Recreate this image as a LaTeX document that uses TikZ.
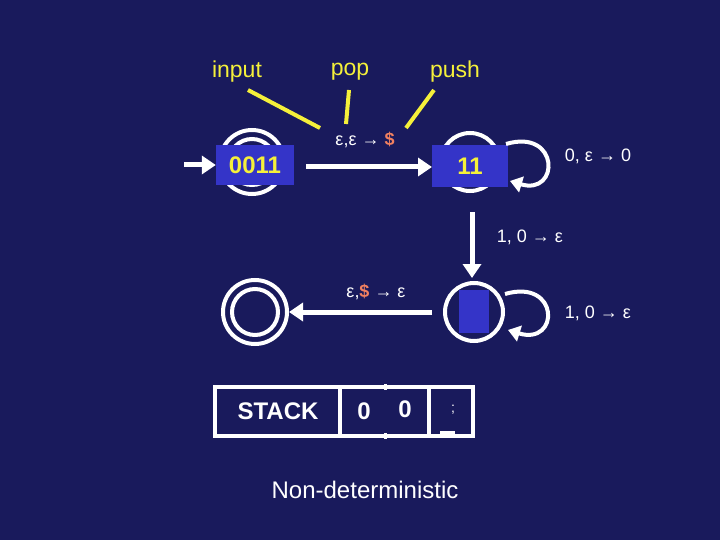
\documentclass[tikz,border=0pt]{standalone}
\usepackage{fontspec}
\setmainfont{Liberation Sans}
\usetikzlibrary{arrows.meta}
\definecolor{bg}{HTML}{191A5C}
\definecolor{boxb}{HTML}{3434C8}
\definecolor{yel}{HTML}{F5F03A}
\definecolor{dol}{HTML}{F08060}
\begin{document}
\begin{tikzpicture}[x=1pt,y=-1pt,
  st/.style={circle,draw=white,line width=4pt,minimum size=58pt,inner sep=0},
  lab/.style={text=white,font=\fontsize{18}{22}\selectfont},
  ylab/.style={text=yel,font=\fontsize{23}{28}\selectfont},
  arr/.style={draw=white,line width=5pt,-{Triangle[length=14pt,width=18pt]}},
  yl/.style={draw=yel,line width=4pt}]
\fill[bg] (0,0) rectangle (720,540);
\useasboundingbox (0,0) rectangle (720,540);
% states
\node[st,minimum size=64pt] (q0) at (252,162) {};
\node[st,minimum size=46pt] (q0i) at (252,162) {};
\node[st] (q1) at (470,162) {};
\node[st] (q2) at (474,312) {};
\node[st,minimum size=64pt] (q3) at (255,312) {};
\node[st,minimum size=46pt] (q3i) at (255,312) {};
% boxes
\node[fill=boxb,minimum width=78pt,minimum height=40pt,text=yel,font=\bfseries\fontsize{24}{28}\selectfont] (b0) at (255,165) {0011};
\node[fill=boxb,minimum width=76pt,minimum height=42pt,text=yel,font=\bfseries\fontsize{24}{28}\selectfont] (b1) at (470,166) {11};
\node[fill=boxb,minimum width=30pt,minimum height=43pt] (b2) at (474,311) {};
% labels top
\node[ylab] (in) at (237,72) {input};
\node[ylab] (pop) at (350,72) {pop};
\node[ylab] (push) at (455,72) {push};
\coordinate (c1) at (320,128);
\coordinate (c2) at (346,124);
\coordinate (c3) at (406,128);
\draw[yl] (248,90) -- (c1);
\draw[yl] (349,90) -- (c2);
\draw[yl] (434,90) -- (c3);
% start arrow
\coordinate (s0) at (184,165);
\draw[arr] (s0) -- (b0.west);
% transitions
\coordinate (a1) at (306,167);
\coordinate (a1e) at (432,167);
\draw[arr] (a1) -- (a1e);
\node[lab] (t1) at (365,140) {ε,ε → \textcolor{dol}{\textbf{\$}}};
\coordinate (l1s) at (506,144);
\coordinate (l1e) at (510,181);
\draw[white,line width=4pt,-{Triangle[length=12pt,width=16pt]}] (l1s) .. controls (560,128) and (560,196) .. (l1e);
\node[lab] (t2) at (598,156) {0, ε → 0};
\coordinate (a2) at (472,212);
\coordinate (a2e) at (472,278);
\draw[arr] (a2) -- (a2e);
\node[lab] (t3) at (530,237) {1, 0 → ε};
\coordinate (l2s) at (505,294);
\coordinate (l2e) at (508,330);
\draw[white,line width=4pt,-{Triangle[length=12pt,width=16pt]}] (l2s) .. controls (560,278) and (560,346) .. (l2e);
\node[lab] (t4) at (598,313) {1, 0 → ε};
\coordinate (a3) at (432,312);
\draw[arr] (a3) -- (q3.east);
\node[lab] (t5) at (376,292) {ε,\textcolor{dol}{\textbf{\$}} → ε};
% stack
\draw[white,line width=4pt] (215,387) rectangle (473,436);
\draw[white,line width=4pt] (340,387) -- (340,436);
\draw[white,line width=4pt] (429,387) -- (429,436);
\draw[white,line width=3pt] (385,384) -- (385,390) (385,433) -- (385,439);
\draw[white,line width=3pt] (440,432) -- (455,432);
\node[text=white,font=\bfseries\fontsize{24}{28}\selectfont] (stk) at (278,411) {STACK};
\node[text=white,font=\bfseries\fontsize{24}{28}\selectfont] (s1) at (364,411) {0};
\node[text=white,font=\bfseries\fontsize{24}{28}\selectfont] (s2) at (405,409) {0};
\node[text=white,font=\fontsize{14}{16}\selectfont] (s3) at (453,410) {;};
\node[text=white,font=\fontsize{24}{28}\selectfont] (nd) at (365,490) {Non-deterministic};
\end{tikzpicture}
\end{document}
